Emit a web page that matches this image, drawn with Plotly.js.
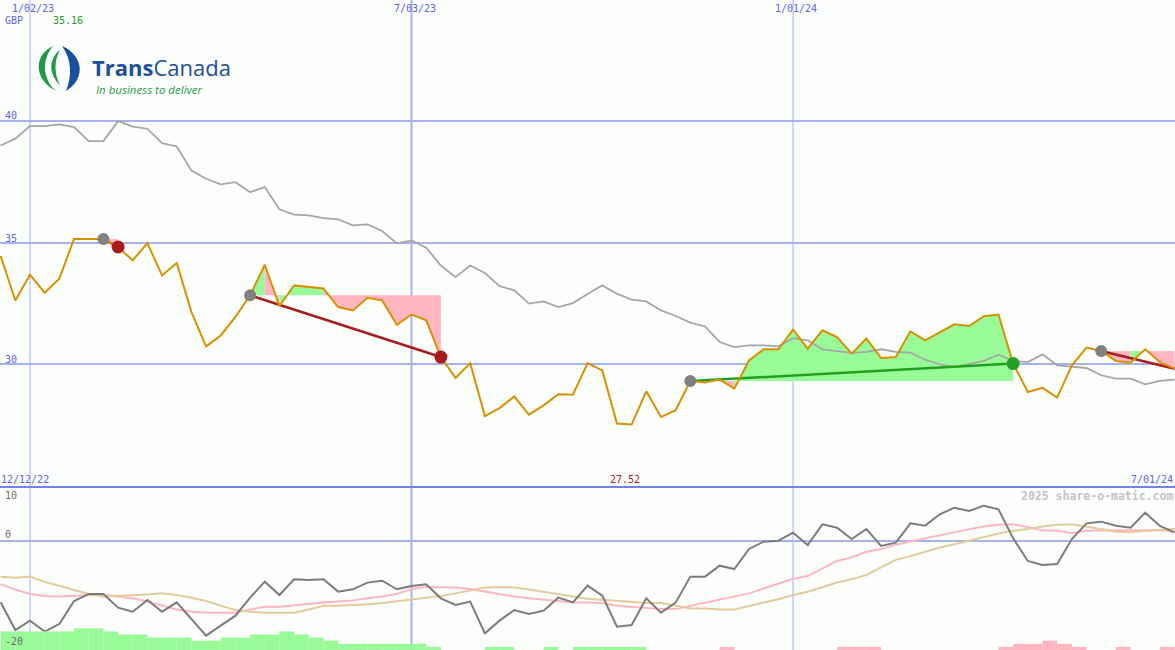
<!DOCTYPE html>
<html><head><meta charset="utf-8">
<script src="https://cdn.plot.ly/plotly-3.0.1.min.js"></script>
<style>html,body{margin:0;padding:0;background:#fcfefc;}#chart{width:1175px;height:650px;}</style>
</head><body><div id="chart"></div>
<script>
// ---------- data ----------
const dates = ['2022-12-19','2022-12-26','2023-01-02','2023-01-09','2023-01-16','2023-01-23','2023-01-30','2023-02-06','2023-02-13','2023-02-20',
'2023-02-27','2023-03-06','2023-03-13','2023-03-20','2023-03-27','2023-04-03','2023-04-10','2023-04-17','2023-04-24','2023-05-01',
'2023-05-08','2023-05-15','2023-05-22','2023-05-29','2023-06-05','2023-06-12','2023-06-19','2023-06-26','2023-07-03','2023-07-10',
'2023-07-17','2023-07-24','2023-07-31','2023-08-07','2023-08-14','2023-08-21','2023-08-28','2023-09-04','2023-09-11','2023-09-18',
'2023-09-25','2023-10-02','2023-10-09','2023-10-16','2023-10-23','2023-10-30','2023-11-06','2023-11-13','2023-11-20','2023-11-27',
'2023-12-04','2023-12-11','2023-12-18','2023-12-25','2024-01-01','2024-01-08','2024-01-15','2024-01-22','2024-01-29','2024-02-05',
'2024-02-12','2024-02-19','2024-02-26','2024-03-04','2024-03-11','2024-03-18','2024-03-25','2024-04-01','2024-04-08','2024-04-15',
'2024-04-22','2024-04-29','2024-05-06','2024-05-13','2024-05-20','2024-05-27','2024-06-03','2024-06-10','2024-06-17','2024-06-24',
'2024-07-01'];

const price = [34.46,32.63,33.69,32.95,33.53,35.16,35.16,35.16,34.83,34.28,
34.99,33.66,34.17,32.15,30.74,31.19,31.95,32.84,34.10,32.40,
33.25,33.18,33.12,32.36,32.22,32.74,32.63,31.63,32.05,31.81,
30.30,29.44,30.05,27.87,28.20,28.68,27.93,28.31,28.77,28.75,
30.05,29.75,27.56,27.52,28.89,27.83,28.11,29.31,29.25,29.37,
29.00,30.16,30.62,30.62,31.43,30.65,31.40,31.12,30.44,31.06,
30.26,30.30,31.36,30.99,31.33,31.65,31.58,31.98,32.05,30.03,
28.86,29.03,28.63,29.96,30.69,30.55,30.14,30.07,30.62,30.09,
29.82];

const average = [39.01,39.29,39.81,39.81,39.88,39.77,39.19,39.19,40.01,39.79,
39.70,39.11,38.97,37.98,37.64,37.41,37.50,37.09,37.30,36.38,
36.16,36.13,36.02,35.97,35.72,35.76,35.49,34.98,35.10,34.80,
34.07,33.59,34.07,33.76,33.22,33.05,32.50,32.59,32.36,32.52,
32.90,33.25,32.91,32.66,32.59,32.22,31.99,31.72,31.56,30.92,
30.71,30.78,30.78,30.74,31.08,30.99,30.62,30.55,30.47,30.51,
30.62,30.51,30.48,30.19,30.00,29.89,30.00,30.14,30.40,30.14,
30.09,30.41,29.96,29.89,29.85,29.55,29.41,29.41,29.18,29.32,
29.37];

const oscillator = [-11.36,-16.48,-14.75,-16.79,-15.37,-11.11,-9.81,-9.81,-12.35,-13.09,
-10.93,-13.09,-11.36,-14.5,-17.53,-15.68,-13.83,-10.49,-7.53,-10.0,
-7.10,-7.22,-7.10,-9.38,-8.95,-7.71,-7.35,-8.95,-8.33,-8.02,
-10.62,-11.85,-11.23,-17.10,-14.75,-12.78,-13.52,-12.90,-10.49,-11.36,
-8.27,-10.12,-15.86,-15.56,-10.62,-13.27,-11.42,-6.60,-6.60,-4.57,
-5.19,-1.48,-0.12,0.06,1.54,-0.74,3.09,2.47,0.37,2.22,
-0.93,-0.31,3.27,2.84,4.94,6.17,5.56,6.54,5.86,0.49,
-3.70,-4.44,-4.26,0.37,3.27,3.58,2.84,2.47,5.25,2.78,
1.60];

const signalFast = [-8.0,-9.0,-9.8,-10.2,-10.3,-10.2,-10.0,-9.9,-10.3,-10.6,
-11.2,-11.9,-12.7,-13.1,-13.3,-13.3,-13.3,-12.7,-12.2,-12.2,
-11.9,-11.7,-11.4,-11.2,-11.0,-10.6,-10.3,-9.8,-8.9,-8.5,
-8.5,-8.6,-8.9,-9.4,-9.8,-10.3,-10.6,-10.9,-11.2,-11.4,
-11.4,-11.5,-12.0,-12.2,-12.4,-12.6,-12.6,-12.0,-11.5,-10.9,
-10.3,-9.7,-8.8,-7.9,-7.0,-6.5,-5.1,-3.7,-3.0,-2.0,
-1.5,-0.7,-0.1,0.5,1.1,1.7,2.2,2.7,3.0,3.1,
2.5,2.0,1.9,1.5,1.9,2.0,2.0,2.0,2.0,2.0,
1.7];

const signalSlow = [-6.6,-6.8,-6.6,-7.6,-8.3,-9.1,-9.8,-10.3,-10.2,-10.1,
-9.9,-9.7,-10.0,-10.5,-11.1,-12.0,-12.8,-13.1,-13.3,-13.3,
-13.3,-12.7,-12.0,-12.0,-11.9,-11.7,-11.5,-11.2,-10.9,-10.5,
-10.2,-9.7,-9.1,-8.6,-8.5,-8.6,-9.0,-9.4,-9.9,-10.3,
-10.7,-10.9,-11.1,-11.4,-11.5,-11.5,-12.0,-12.5,-12.5,-12.7,
-12.7,-12.0,-11.4,-10.8,-10.0,-9.4,-8.5,-7.7,-7.1,-6.3,
-4.9,-3.5,-2.8,-2.0,-1.2,-0.6,0.1,0.8,1.4,1.9,
2.2,2.7,3.0,3.1,2.7,2.2,1.7,1.6,1.9,2.0,
2.2];

const strength = [6,6,6,6,6,7,7,6,5,5, 4,4,4,3,3,4,4,5,5,6,
5,4,3,2,2,2,2,2,2,1, 0,0,0,1,1,0,0,1,0,1,
1,1,1,1,0,0,0,0,0,-1, 0,0,0,0,0,0,0,-1,-1,-1,
0,0,0,0,0,0,0,0,-1,-2, -2,-3,-2,-1,0,0,-1,0,0,-1,
-1];

const tradeEntry = [7, 17, 47, 75];
const tradeExit  = [8, 30, 69, 80];
const tradeOpen  = [false, false, false, true];

const topTickDates  = ['2023-01-02','2023-07-03','2024-01-01'];
const topTickLabels = ['1/02/23','7/03/23','1/01/24'];
const priceTicks = [30, 35, 40];
const priceTickLabels = ['30','35','40'];
const oscTickLabels = ['10','0','-20'];
const currency = 'GBP';
const firstLabel = '12/12/22';
const lastLabel = '7/01/24';
const credit = '2025 share-o-matic.com';

// ---------- style ----------
const W = 1175, H = 650;
const SPLIT = 1 - 487 / H;
const MONO = 'DejaVu Sans Mono, monospace';
const BG = '#fcfefc';
const GRID = '#a4b2f2';
const BLUE_TXT = '#5a64f0';
const GREEN_FILL = '#98fb98', PINK_FILL = '#ffb6c1';
const ORANGE = '#d99000', GREY = '#a6a6a6';
const LOSS = '#a81c1c', GAIN = '#22a022';

const traces = [];

// trade fills (between price and entry level)
for (let t = 0; t < tradeEntry.length; t++) {
  const a = tradeEntry[t], b = tradeExit[t], L = price[a];
  let k = a;
  while (k < b) {
    const up = price[k + 1] >= L;
    let e = k + 1;
    while (e < b && (price[e + 1] >= L) === up) e++;
    const xs = dates.slice(k, e + 1);
    traces.push({x: xs, y: xs.map(() => L), mode: 'lines', line: {width: 0}, hoverinfo: 'skip'});
    traces.push({x: xs, y: price.slice(k, e + 1), mode: 'lines', line: {width: 0},
      fill: 'tonexty', fillcolor: up ? GREEN_FILL : PINK_FILL, hoverinfo: 'skip'});
    k = e;
  }
}

// average line
traces.push({x: dates, y: average, mode: 'lines', line: {color: GREY, width: 1.8}});

// trade lines
for (let t = 0; t < tradeEntry.length; t++) {
  const a = tradeEntry[t], b = tradeExit[t];
  traces.push({x: [dates[a], dates[b]], y: [price[a], price[b]], mode: 'lines',
    line: {color: price[b] >= price[a] ? GAIN : LOSS, width: 2.5}});
}

// price line
traces.push({x: dates, y: price, mode: 'lines', line: {color: ORANGE, width: 2}});

// entry / exit markers
traces.push({x: tradeEntry.map(i => dates[i]), y: tradeEntry.map(i => price[i]), mode: 'markers',
  marker: {color: '#808080', size: 12, line: {width: 0}}});
const closed = tradeEntry.map((_, t) => t).filter(t => !tradeOpen[t]);
traces.push({x: closed.map(t => dates[tradeExit[t]]), y: closed.map(t => price[tradeExit[t]]), mode: 'markers',
  marker: {color: closed.map(t => price[tradeExit[t]] >= price[tradeEntry[t]] ? GAIN : LOSS), size: 13, line: {width: 0}}});

// lower panel lines
traces.push({x: dates, y: signalFast, xaxis: 'x', yaxis: 'y2', mode: 'lines', line: {color: '#ffb6c1', width: 2}});
traces.push({x: dates, y: signalSlow, xaxis: 'x', yaxis: 'y2', mode: 'lines', line: {color: '#e4cb9c', width: 2}});
traces.push({x: dates, y: oscillator, xaxis: 'x', yaxis: 'y2', mode: 'lines', line: {color: '#7c7c7c', width: 2}});

// strength bars
const WEEK = 7 * 86400000;
traces.push({type: 'bar', x: dates, y: strength.map(v => v > 0 ? v : null), xaxis: 'x', yaxis: 'y3',
  offset: 0, width: WEEK, marker: {color: GREEN_FILL, line: {width: 0}}});
traces.push({type: 'bar', x: dates, y: strength.map(v => v < 0 ? -v : null), xaxis: 'x', yaxis: 'y3',
  offset: 0, width: WEEK, marker: {color: PINK_FILL, line: {width: 0}}});

// ---------- annotations ----------
function A(text, x, y, xa, color, size, extra) {
  return Object.assign({text: text, xref: 'paper', yref: 'paper', x: x / W, y: 1 - y / H,
    xanchor: xa, yanchor: 'middle', showarrow: false, borderpad: 0, borderwidth: 0,
    font: {family: MONO, size: size, color: color}}, extra || {});
}
const annotations = [];
topTickDates.forEach((d, i) => annotations.push({text: topTickLabels[i], xref: 'x', yref: 'paper', x: d, y: 1 - 8 / H,
  xanchor: 'center', yanchor: 'middle', xshift: 3, showarrow: false, borderpad: 0,
  font: {family: MONO, size: 10, color: BLUE_TXT}}));
const tickY = {30: 359, 35: 238, 40: 116};
priceTicks.forEach((v, i) => annotations.push(A(priceTickLabels[i], 5, tickY[v], 'left', BLUE_TXT, 10)));
annotations.push(A(currency, 5, 20, 'left', BLUE_TXT, 10));
annotations.push(A(Math.max(...price).toFixed(2), 53, 20, 'left', '#2a9a2a', 10));
annotations.push(A(firstLabel, 1, 479, 'left', BLUE_TXT, 10));
annotations.push(A(Math.min(...price).toFixed(2), 625, 479, 'center', LOSS, 10));
annotations.push(A(lastLabel, 1173, 479, 'right', BLUE_TXT, 10));
annotations.push(A('<b>' + credit + '</b>', 1173, 496, 'right', '#c4c4c4', 11.5));
const oscY = [495, 534, 641];
oscTickLabels.forEach((s, i) => annotations.push(A(s, 5, oscY[i], 'left', '#6a6a6a', 10)));
// logo text
annotations.push(A('<b>Trans</b>Canada', 92, 67, 'left', '#1b4f9c', 22, {font: {family: 'Open Sans', size: 22, color: '#1b4f9c'}}));
annotations.push(A('<i>In business to deliver</i>', 96, 90, 'left', '#2a9a4a', 11.5, {font: {family: 'Open Sans', size: 11.5, color: '#2a9a4a'}}));

// ---------- shapes ----------
function P(s) {
  return s.replace(/(-?\d+\.?\d*),(-?\d+\.?\d*)/g, (m, a, b) => (a / W).toFixed(5) + ',' + (1 - b / H).toFixed(5));
}
const shapes = [];
topTickDates.forEach((d, i) => shapes.push({type: 'line', xref: 'x', yref: 'paper', x0: d, x1: d, y0: 0, y1: 1,
  layer: 'below', line: {color: GRID, width: i === 1 ? 2 : 1}}));
shapes.push({type: 'line', xref: 'paper', yref: 'paper', x0: 0, x1: 1, y0: SPLIT, y1: SPLIT, layer: 'above',
  line: {color: '#7482ec', width: 2}});
// logo icon
shapes.push({type: 'path', xref: 'paper', yref: 'paper', layer: 'above', line: {width: 0}, fillcolor: '#1e9a4a',
  path: P('M 53,46 C 35,54 32,78 56,91 C 43,80 41,60 53,46 Z')});
shapes.push({type: 'path', xref: 'paper', yref: 'paper', layer: 'above', line: {width: 0}, fillcolor: '#1e9a4a',
  path: P('M 60,50 C 49,58 48,74 60,85 C 54,74 54,60 60,50 Z')});
shapes.push({type: 'path', xref: 'paper', yref: 'paper', layer: 'above', line: {width: 0}, fillcolor: '#1b4f9c',
  path: P('M 62,46 C 85,56 85,80 66,91 C 72,76 72,60 62,46 Z')});

const layout = {
  width: W, height: H, margin: {l: 0, r: 0, t: 0, b: 0, pad: 0},
  paper_bgcolor: BG, plot_bgcolor: BG, showlegend: false, barmode: 'overlay',
  xaxis: {type: 'date', range: ['2022-12-18 16:30', '2024-07-01 05:00'], domain: [0, 1],
    showgrid: false, zeroline: false, showticklabels: false, ticks: '', showline: false},
  yaxis: {domain: [SPLIT, 1], range: [24.95, 45.0], tickvals: priceTicks, showticklabels: false, ticks: '',
    showgrid: true, gridcolor: GRID, gridwidth: 2, zeroline: false, showline: false},
  yaxis2: {domain: [0, SPLIT], range: [-20.19, 10], tickvals: [0], showticklabels: false, ticks: '',
    showgrid: true, gridcolor: GRID, gridwidth: 2, zeroline: false, showline: false},
  yaxis3: {overlaying: 'y2', range: [0, 52.6], visible: false, showgrid: false, zeroline: false},
  annotations: annotations, shapes: shapes
};

Plotly.newPlot('chart', traces, layout, {staticPlot: true, displayModeBar: false});
</script>
</body></html>
